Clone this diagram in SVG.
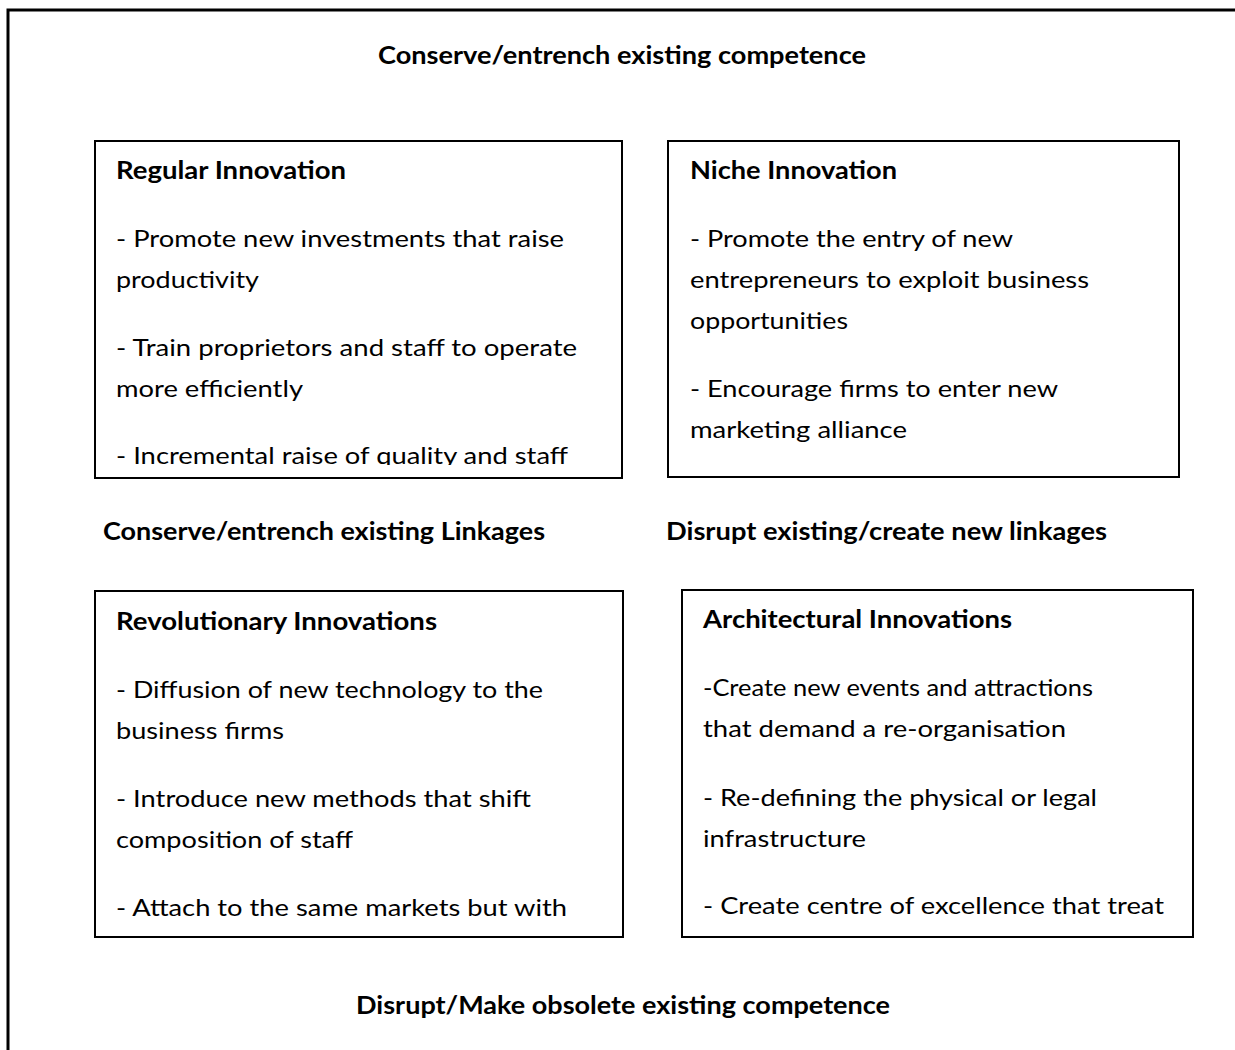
<svg xmlns="http://www.w3.org/2000/svg" width="1235" height="1050" viewBox="0 0 1235 1050">
<defs>
<style>
text{font-family:Lato,"Liberation Sans",sans-serif;font-size:24px;fill:#000}
.b{font-weight:bold}
.box{fill:#fff;stroke:#000;stroke-width:2}
.frame{fill:none;stroke:#000;stroke-width:3}
</style>
<clipPath id="c1"><rect x="95" y="141" width="527" height="324"/></clipPath>
</defs>
<rect width="1235" height="1050" fill="#fff"/>
<path class="frame" d="M8,1052 V10 H1240"/>
<text class="b" x="378" y="64" textLength="488" lengthAdjust="spacingAndGlyphs">Conserve/entrench existing competence</text>
<g id="regular">
<rect class="box" x="95" y="141" width="527" height="337"/>
<g clip-path="url(#c1)">
<text class="b" x="116" y="179" textLength="230" lengthAdjust="spacingAndGlyphs">Regular Innovation</text>
<text x="116" y="247" textLength="448" lengthAdjust="spacingAndGlyphs">- Promote new investments that raise</text>
<text x="116" y="288" textLength="143" lengthAdjust="spacingAndGlyphs">productivity</text>
<text x="116" y="356" textLength="461" lengthAdjust="spacingAndGlyphs">- Train proprietors and staff to operate</text>
<text x="116" y="397" textLength="187" lengthAdjust="spacingAndGlyphs">more efficiently</text>
<text x="116" y="464" textLength="452" lengthAdjust="spacingAndGlyphs">- Incremental raise of quality and staff</text>
</g>
</g>
<g id="niche">
<rect class="box" x="668" y="141" width="511" height="336"/>
<text class="b" x="690" y="179" textLength="207" lengthAdjust="spacingAndGlyphs">Niche Innovation</text>
<text x="690" y="247" textLength="323" lengthAdjust="spacingAndGlyphs">- Promote the entry of new</text>
<text x="690" y="288" textLength="399" lengthAdjust="spacingAndGlyphs">entrepreneurs to exploit business</text>
<text x="690" y="329" textLength="158" lengthAdjust="spacingAndGlyphs">opportunities</text>
<text x="690" y="397" textLength="368" lengthAdjust="spacingAndGlyphs">- Encourage firms to enter new</text>
<text x="690" y="438" textLength="217" lengthAdjust="spacingAndGlyphs">marketing alliance</text>
</g>
<text class="b" x="103" y="540" textLength="442" lengthAdjust="spacingAndGlyphs">Conserve/entrench existing Linkages</text>
<text class="b" x="666" y="540" textLength="441" lengthAdjust="spacingAndGlyphs">Disrupt existing/create new linkages</text>
<g id="revolutionary">
<rect class="box" x="95" y="591" width="528" height="346"/>
<text class="b" x="116" y="630" textLength="321" lengthAdjust="spacingAndGlyphs">Revolutionary Innovations</text>
<text x="116" y="698" textLength="427" lengthAdjust="spacingAndGlyphs">- Diffusion of new technology to the</text>
<text x="116" y="739" textLength="168" lengthAdjust="spacingAndGlyphs">business firms</text>
<text x="116" y="807" textLength="415" lengthAdjust="spacingAndGlyphs">- Introduce new methods that shift</text>
<text x="116" y="848" textLength="237" lengthAdjust="spacingAndGlyphs">composition of staff</text>
<text x="116" y="916" textLength="451" lengthAdjust="spacingAndGlyphs">- Attach to the same markets but with</text>
</g>
<g id="architectural">
<rect class="box" x="682" y="590" width="511" height="347"/>
<text class="b" x="703" y="628" textLength="309" lengthAdjust="spacingAndGlyphs">Architectural Innovations</text>
<text x="703" y="696" textLength="390" lengthAdjust="spacingAndGlyphs">-Create new events and attractions</text>
<text x="703" y="737" textLength="363" lengthAdjust="spacingAndGlyphs">that demand a re-organisation</text>
<text x="703" y="806" textLength="394" lengthAdjust="spacingAndGlyphs">- Re-defining the physical or legal</text>
<text x="703" y="847" textLength="163" lengthAdjust="spacingAndGlyphs">infrastructure</text>
<text x="703" y="914" textLength="461" lengthAdjust="spacingAndGlyphs">- Create centre of excellence that treat</text>
</g>
<text class="b" x="356" y="1014" textLength="534" lengthAdjust="spacingAndGlyphs">Disrupt/Make obsolete existing competence</text>
<g id="connectors"></g>
</svg>
